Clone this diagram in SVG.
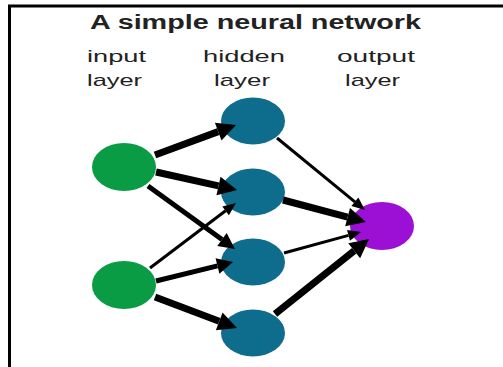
<svg xmlns="http://www.w3.org/2000/svg" width="503" height="367" viewBox="0 0 503 367">
  <style>
    .title { font-family: "Liberation Sans", Arial, sans-serif; font-size: 20px; font-weight: bold; fill: #222; }
    .lbl { font-family: "Liberation Sans", Arial, sans-serif; font-size: 17px; fill: #222; }
    .in { fill: #0a9c44; }
    .hid { fill: #0e6d8c; }
    .out { fill: #9b10d4; }
    .e { stroke: #000; fill: none; stroke-linecap: butt; }
    .thick { stroke-width: 7; marker-end: url(#arrowBig); }
    .mid { stroke-width: 5; marker-end: url(#arrowMid); }
    .thin { stroke-width: 3; marker-end: url(#arrowSmall); }
  </style>
  <defs>
    <marker id="arrowBig" markerUnits="userSpaceOnUse" orient="auto" refX="0" refY="0" markerWidth="19" markerHeight="19" overflow="visible">
      <path d="M0,-9.5 L19,0 L0,9.5 z" fill="#000"/>
    </marker>
    <marker id="arrowMid" markerUnits="userSpaceOnUse" orient="auto" refX="0" refY="0" markerWidth="16" markerHeight="16" overflow="visible">
      <path d="M0,-8 L16,0 L0,8 z" fill="#000"/>
    </marker>
    <marker id="arrowSmall" markerUnits="userSpaceOnUse" orient="auto" refX="0" refY="0" markerWidth="13" markerHeight="12" overflow="visible">
      <path d="M0,-5.5 L13,0 L0,5.5 z" fill="#000"/>
    </marker>
  </defs>
  <rect width="503" height="367" fill="#fff"/>
  <path d="M9.5,367 V6 H503" fill="none" stroke="#000" stroke-width="3"/>

  <g id="title">
    <text class="title" x="90" y="29" textLength="331" lengthAdjust="spacingAndGlyphs">A simple neural network</text>
  </g>
  <g id="labels">
    <text class="lbl" x="87" y="62" textLength="59" lengthAdjust="spacingAndGlyphs">input</text>
    <text class="lbl" x="87" y="86" textLength="55" lengthAdjust="spacingAndGlyphs">layer</text>
    <text class="lbl" x="203" y="62" textLength="82" lengthAdjust="spacingAndGlyphs">hidden</text>
    <text class="lbl" x="214" y="86" textLength="56" lengthAdjust="spacingAndGlyphs">layer</text>
    <text class="lbl" x="337" y="62" textLength="78" lengthAdjust="spacingAndGlyphs">output</text>
    <text class="lbl" x="345" y="86" textLength="55" lengthAdjust="spacingAndGlyphs">layer</text>
  </g>

  <g id="input1"><ellipse class="in" cx="124" cy="167" rx="32" ry="24"/></g>
  <g id="input2"><ellipse class="in" cx="124" cy="285" rx="32" ry="24"/></g>
  <g id="hidden1"><ellipse class="hid" cx="253" cy="121" rx="32" ry="23.5"/></g>
  <g id="hidden2"><ellipse class="hid" cx="253" cy="192" rx="32" ry="23.5"/></g>
  <g id="hidden3"><ellipse class="hid" cx="253" cy="262" rx="32" ry="23.5"/></g>
  <g id="hidden4"><ellipse class="hid" cx="253" cy="333" rx="32" ry="23.5"/></g>
  <g id="output1"><ellipse class="out" cx="382" cy="226" rx="32" ry="24"/></g>

  <g id="connectors">
    <line class="e thick" x1="155" y1="155" x2="218.2" y2="131.6"/>
    <line class="e thick" x1="156" y1="172" x2="218.5" y2="185.9"/>
    <line class="e mid" x1="148" y1="186" x2="222" y2="239.6"/>
    <line class="e thin" x1="150" y1="268" x2="225.6" y2="210.8"/>
    <line class="e mid" x1="156" y1="281" x2="217.5" y2="265.9"/>
    <line class="e thick" x1="155" y1="297" x2="219.2" y2="321.3"/>
    <line class="e thin" x1="277" y1="138" x2="354.9" y2="201.8"/>
    <line class="e thick" x1="283" y1="200" x2="347.6" y2="217.1"/>
    <line class="e thin" x1="284" y1="253" x2="348.5" y2="235.4"/>
    <line class="e thick" x1="275" y1="314" x2="354.2" y2="250.8"/>
  </g>
</svg>
